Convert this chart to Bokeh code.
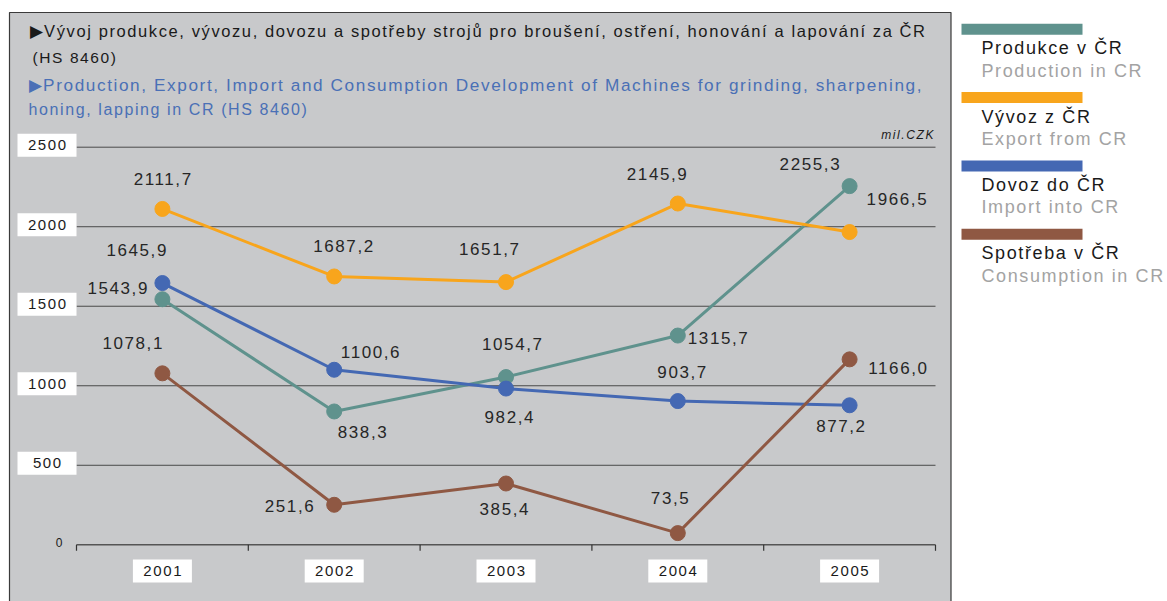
from bokeh.plotting import figure
from bokeh.models import Range1d, ColumnDataSource
from bokeh.core.properties import value
from bokeh.embed import file_html
from bokeh.resources import INLINE

# ---------------- data ----------------
years = ["2001", "2002", "2003", "2004", "2005"]
produkce = [1543.9, 838.3, 1054.7, 1315.7, 2255.3]
vyvoz = [2111.7, 1687.2, 1651.7, 2145.9, 1966.5]
dovoz = [1645.9, 1100.6, 982.4, 903.7, 877.2]
spotreba = [1078.1, 251.6, 385.4, 73.5, 1166.0]
names_cz = ["Produkce v ČR", "Vývoz z ČR", "Dovoz do ČR", "Spotřeba v ČR"]
names_en = ["Production in CR", "Export from CR", "Import into CR", "Consumption in CR"]
y_ticks = [0, 500, 1000, 1500, 2000, 2500]
title_cz = ["▶Vývoj produkce, vývozu, dovozu a spotřeby strojů pro broušení, ostření, honování a lapování za ČR",
            "(HS 8460)"]
title_en = ["▶Production, Export, Import and Consumption Development of Machines for grinding, sharpening,",
            "honing, lapping in CR (HS 8460)"]
unit_text = "mil.CZK"

series = [produkce, vyvoz, dovoz, spotreba]

# ---------------- style / layout ----------------
colors = ["#5f928d", "#f8a51c", "#4468b3", "#8f5843"]
label_offsets = [
    [(-45, -11), (28, 21), (6, -33), (40, 2), (-40, -22)],
    [(0, -30), (9, -30), (-17, -33), (-21, -30), (47, -33)],
    [(-26, -33), (36, -18), (3, 28), (4, -29), (-9, 21)],
    [(-30, -30), (-45, 1), (-2, 25), (-8, -35), (48, 9)],
]
FONT = value("Liberation Sans")
GREY = "#c8c9cb"
LS = 1.6                  # letter spacing (px)
W, H = 1167, 601
PL, PR = 76.0, 935.0      # plot area left/right (canvas px)
PB, PT = 544.3, 146.7     # y=0 and y=2500 (canvas px)
YMAX = y_ticks[-1]
n = len(years)
ux = (PR - PL) / n
uy = (PB - PT) / YMAX
X0, X1 = -PL / ux, (W - PL) / ux
Ytop, Ybot = PB / uy, -(H - PB) / uy


def dx(px):
    return X0 + px / ux


def dy(py):
    return (PB - py) / uy


def ctr(s):
    # compensate the extra width that letter spacing adds to centred text
    return -(len(s) - 1) * LS / 2


p = figure(width=W, height=H, x_range=Range1d(X0, X1), y_range=Range1d(Ybot, Ytop),
           x_axis_type=None, y_axis_type=None, output_backend="svg", toolbar_location=None,
           min_border=0, background_fill_color="white", border_fill_color="white",
           outline_line_color=None)
p.grid.visible = False
p.styles = {"letter-spacing": f"{LS}px"}

# grey panel
p.quad(left=[dx(9)], right=[dx(950.5)], top=[dy(12)], bottom=[dy(H + 10)],
       fill_color=GREY, line_color="#3a3a3a", line_width=1.2)

# titles
p.text(x=[dx(29)], y=[dy(30)], text=[title_cz[0]], text_font=FONT,
       text_font_size="16.5px", text_color="#1a1a1a", text_baseline="middle")
p.text(x=[dx(32)], y=[dy(57)], text=[title_cz[1]], text_font=FONT,
       text_font_size="15.5px", text_color="#1a1a1a", text_baseline="middle")
p.text(x=[dx(28)], y=[dy(84)], text=[title_en[0]], text_font=FONT,
       text_font_size="17.2px", text_color="#4a70b6", text_baseline="middle")
p.text(x=[dx(28)], y=[dy(109)], text=[title_en[1]], text_font=FONT,
       text_font_size="16px", text_color="#4a70b6", text_baseline="middle")
p.text(x=[dx(933)], y=[dy(134)], text=[unit_text], text_font=FONT, text_font_size="12px",
       text_font_style="italic", text_color="#1a1a1a", text_align="right", text_baseline="middle",
       x_offset=-(len(unit_text) - 1) * LS)

# gridlines
grid_vals = y_ticks[1:]
p.segment(x0=[0] * len(grid_vals), x1=[n] * len(grid_vals), y0=grid_vals, y1=grid_vals,
          line_color="#4a4a4a", line_width=1)
# x axis line and ticks
p.segment(x0=[0], x1=[n], y0=[0], y1=[0], line_color="#555555", line_width=1.5)
tick_x = list(range(n + 1))
p.segment(x0=tick_x, x1=tick_x, y0=[0] * len(tick_x), y1=[dy(PB + 6)] * len(tick_x),
          line_color="#333333", line_width=1.2)

# y tick labels
grid_labels = [str(t) for t in grid_vals]
box_vals = [t + 2 / uy for t in grid_vals]
p.rect(x=[dx(46.5)] * len(grid_vals), y=box_vals, width=59, height=23,
       width_units="screen", height_units="screen", fill_color="white", line_color=None)
p.text(x=[dx(46.5)] * len(grid_vals), y=grid_vals, text=grid_labels,
       text_font=FONT, text_font_size="15px", text_color="#1a1a1a", text_align="center",
       text_baseline="middle", y_offset=-2, x_offset=[ctr(s) for s in grid_labels])
p.text(x=[dx(58.5)], y=[y_ticks[0]], text=[str(y_ticks[0])], text_font=FONT,
       text_font_size="12px", text_color="#1a1a1a", text_align="center",
       text_baseline="middle", y_offset=-2)

# x tick labels
xc = [i + 0.5 for i in range(n)]
p.rect(x=xc, y=[dy(570.5)] * n, width=59, height=23, width_units="screen",
       height_units="screen", fill_color="white", line_color=None)
p.text(x=xc, y=[dy(570.5)] * n, text=years, text_font=FONT, text_font_size="15px",
       text_color="#1a1a1a", text_align="center", text_baseline="middle",
       x_offset=[ctr(s) for s in years])

# series
for vals, col, offs in zip(series, colors, label_offsets):
    labs = [f"{v:.1f}".replace(".", ",") for v in vals]
    src = ColumnDataSource(dict(
        x=xc, y=vals, lab=labs,
        xo=[o[0] + ctr(s) for o, s in zip(offs, labs)], yo=[o[1] for o in offs]))
    p.line("x", "y", source=src, line_color=col, line_width=3)
    p.scatter("x", "y", source=src, marker="circle", size=15, fill_color=col, line_color=col)
    p.text("x", "y", text="lab", source=src, x_offset="xo", y_offset="yo", text_font=FONT,
           text_font_size="17px", text_color="#262626", text_align="center",
           text_baseline="middle")

# legend
for i, (cz, en, col) in enumerate(zip(names_cz, names_en, colors)):
    top = 23.3 + 68.3 * i
    p.quad(left=[dx(961)], right=[dx(1082)], top=[dy(top)], bottom=[dy(top + 11)],
           fill_color=col, line_color=None)
    p.text(x=[dx(981)], y=[dy(top + 24.5)], text=[cz], text_font=FONT, text_font_size="18px",
           text_color="#1a1a1a", text_baseline="middle")
    p.text(x=[dx(981)], y=[dy(top + 47)], text=[en], text_font=FONT, text_font_size="18px",
           text_color="#a3a3a3", text_baseline="middle")

open("out.html", "w").write(file_html(p, INLINE))
